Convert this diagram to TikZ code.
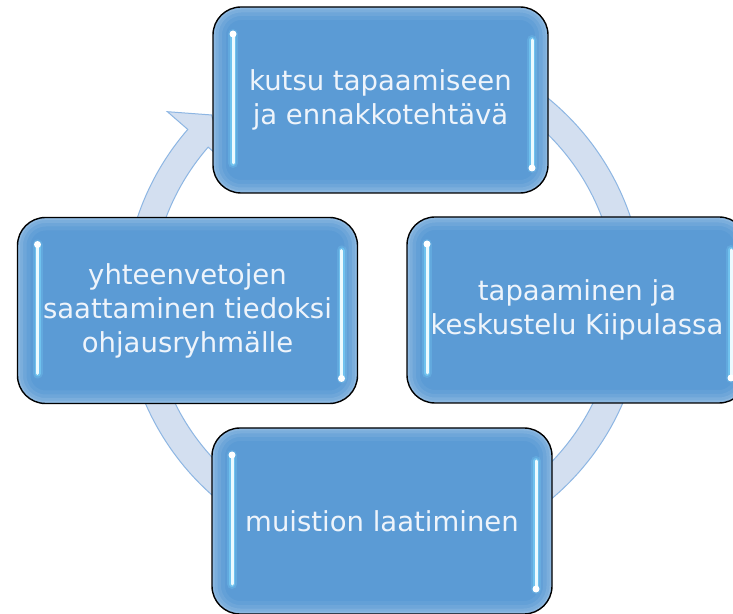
\documentclass[tikz,border=0pt]{standalone}
\usepackage{fontspec}
\setmainfont{DejaVu Sans}
\definecolor{boxblue}{HTML}{5B9BD5}
\definecolor{ringfill}{HTML}{D3DFF0}
\definecolor{ringline}{HTML}{8DB6E3}
\definecolor{txtcol}{HTML}{EEF4FB}
\definecolor{glowcol}{HTML}{7FDBFF}
\newcommand{\rimstroke}[2]{%
  \draw[white, opacity=#2, line width=#1, rounded corners=28pt]
    (path picture bounding box.south west) rectangle (path picture bounding box.north east);}
\newcommand{\hlline}[2]{%
  \draw[glowcol, opacity=0.22, line width=10pt, line cap=round] #1 -- #2;
  \draw[glowcol, opacity=0.5, line width=6pt, line cap=round] #1 -- #2;
  \draw[white!85!glowcol, line width=3pt, line cap=round] #1 -- #2;}
\newcommand{\boxdeco}{%
  \rimstroke{26pt}{0.05}\rimstroke{18pt}{0.07}\rimstroke{11pt}{0.09}\rimstroke{5pt}{0.12}
  \hlline{([xshift=20pt,yshift=-27pt]path picture bounding box.north west)}
         {([xshift=20pt,yshift=30pt]path picture bounding box.south west)}
  \fill[white] ([xshift=20pt,yshift=-27pt]path picture bounding box.north west) circle (3.5pt);
  \hlline{([xshift=-16pt,yshift=-33pt]path picture bounding box.north east)}
         {([xshift=-16pt,yshift=25pt]path picture bounding box.south east)}
  \fill[white] ([xshift=-16pt,yshift=25pt]path picture bounding box.south east) circle (3.5pt);
}
\begin{document}
\begin{tikzpicture}[x=1pt,y=1pt,
  cbox/.style={draw=black, line width=1.4pt, fill=boxblue, rounded corners=28pt,
    minimum width=340pt, minimum height=186pt, inner sep=0pt, align=center,
    text=txtcol, font=\fontsize{27.5}{34}\selectfont,
    path picture={\boxdeco}},
  ring/.style={fill=ringfill, draw=ringline, line width=1pt}]
\clip (0,0) rectangle (733,613);
\fill[white] (0,0) rectangle (733,613);
\coordinate (c) at (384,313);
\path[ring] ([shift={(80:260)}]c) arc[start angle=80, end angle=-221, radius=260]
  -- ([shift={(-221:287)}]c) -- ([shift={(-227:253)}]c) -- ([shift={(-221:206)}]c)
  -- ([shift={(-221:233)}]c) arc[start angle=-221, end angle=80, radius=233] -- cycle;
\node[cbox, minimum width=335pt] (top) at (380.5,513) {kutsu tapaamiseen\\ja ennakkotehtävä};
\node[cbox] (right) at (577,303) {tapaaminen ja\\keskustelu Kiipulassa};
\node[cbox] (bottom) at (382,92) {muistion laatiminen};
\node[cbox] (left) at (187.5,302.5) {yhteenvetojen\\saattaminen tiedoksi\\ohjausryhmälle};
\end{tikzpicture}
\end{document}
